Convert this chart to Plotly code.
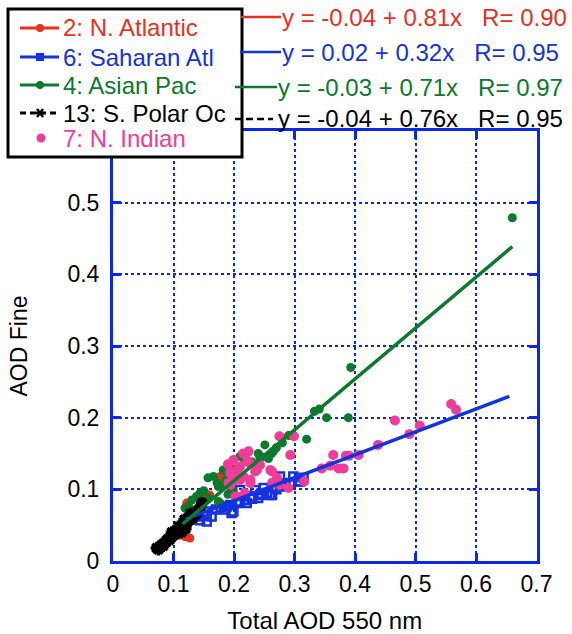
import plotly.graph_objects as go

# ---------------- data ----------------
atl_x = [0.080, 0.086, 0.090, 0.095, 0.100, 0.100, 0.105, 0.108, 0.112, 0.115, 0.119, 0.118,
         0.122, 0.122, 0.125, 0.127, 0.130, 0.133, 0.136, 0.140, 0.143, 0.149, 0.152, 0.149,
         0.155, 0.177, 0.160, 0.090, 0.097, 0.110]
atl_y = [0.025, 0.029, 0.033, 0.036, 0.034, 0.040, 0.044, 0.048, 0.050, 0.052, 0.034, 0.056,
         0.060, 0.081, 0.064, 0.032, 0.066, 0.070, 0.068, 0.074, 0.078, 0.085, 0.095, 0.094,
         0.088, 0.118, 0.092, 0.027, 0.030, 0.036]

sah_x = [0.128, 0.138, 0.144, 0.150, 0.155, 0.155, 0.163, 0.170, 0.178, 0.185, 0.188, 0.194,
         0.196, 0.199, 0.205, 0.210, 0.210, 0.218, 0.221, 0.227, 0.230, 0.235, 0.240, 0.243,
         0.245, 0.249, 0.255, 0.260, 0.263, 0.270, 0.276, 0.276, 0.285, 0.293, 0.298, 0.306,
         0.309, 0.315]
sah_y = [0.058, 0.062, 0.057, 0.063, 0.055, 0.069, 0.062, 0.072, 0.075, 0.072, 0.076, 0.078,
         0.067, 0.069, 0.081, 0.083, 0.099, 0.085, 0.081, 0.090, 0.087, 0.099, 0.088, 0.092,
         0.094, 0.102, 0.095, 0.092, 0.092, 0.100, 0.104, 0.118, 0.108, 0.109, 0.118, 0.111,
         0.111, 0.116]

pac_x = [0.119, 0.125, 0.130, 0.138, 0.144, 0.150, 0.158, 0.157, 0.166, 0.172, 0.174, 0.174,
         0.177, 0.180, 0.182, 0.186, 0.190, 0.190, 0.199, 0.200, 0.210, 0.216, 0.227, 0.230,
         0.240, 0.243, 0.246, 0.251, 0.257, 0.262, 0.265, 0.270, 0.280, 0.290, 0.320, 0.333,
         0.341, 0.353, 0.389, 0.393, 0.660]
pac_y = [0.074, 0.076, 0.085, 0.090, 0.095, 0.098, 0.088, 0.116, 0.118, 0.109, 0.104, 0.083,
         0.081, 0.104, 0.127, 0.112, 0.120, 0.093, 0.097, 0.128, 0.146, 0.143, 0.109, 0.138,
         0.150, 0.144, 0.145, 0.162, 0.143, 0.150, 0.153, 0.158, 0.165, 0.175, 0.170, 0.209,
         0.212, 0.200, 0.200, 0.270, 0.479]

pol_x = [0.072, 0.075, 0.078, 0.080, 0.083, 0.085, 0.088, 0.090, 0.093, 0.095, 0.098, 0.100,
         0.103, 0.105, 0.108, 0.110, 0.112, 0.115, 0.117, 0.120, 0.122, 0.125, 0.127, 0.130,
         0.132, 0.135, 0.138, 0.140, 0.143, 0.147, 0.128, 0.118, 0.108, 0.097, 0.120, 0.113]
pol_y = [0.018, 0.016, 0.020, 0.022, 0.021, 0.025, 0.027, 0.030, 0.029, 0.032, 0.035, 0.036,
         0.038, 0.041, 0.040, 0.044, 0.046, 0.047, 0.050, 0.052, 0.053, 0.056, 0.058, 0.061,
         0.060, 0.064, 0.066, 0.070, 0.072, 0.081, 0.066, 0.058, 0.048, 0.040, 0.045, 0.040]

ind_x = [0.191, 0.194, 0.194, 0.194, 0.202, 0.202, 0.205, 0.205, 0.207, 0.210, 0.210, 0.216,
         0.218, 0.224, 0.227, 0.227, 0.227, 0.235, 0.238, 0.243, 0.260, 0.263, 0.263, 0.271,
         0.275, 0.276, 0.290, 0.293, 0.299, 0.316, 0.345, 0.359, 0.364, 0.373, 0.381, 0.385,
         0.390, 0.406, 0.438, 0.466, 0.490, 0.507, 0.559, 0.567, 0.199, 0.190, 0.215, 0.222]
ind_y = [0.109, 0.122, 0.106, 0.125, 0.113, 0.090, 0.118, 0.090, 0.129, 0.132, 0.113, 0.118,
         0.095, 0.153, 0.136, 0.113, 0.109, 0.125, 0.127, 0.134, 0.127, 0.125, 0.109, 0.116,
         0.174, 0.106, 0.102, 0.148, 0.174, 0.111, 0.129, 0.133, 0.148, 0.129, 0.129, 0.147,
         0.147, 0.148, 0.162, 0.196, 0.177, 0.189, 0.219, 0.211, 0.141, 0.135, 0.150, 0.140]

# regression fits: intercept, slope, R and the x-span each line covers
fit_names = ["2: N. Atlantic", "6: Saharan Atl", "4: Asian Pac", "13: S. Polar Oc"]
fit_intercept = [-0.04, 0.02, -0.03, -0.04]
fit_slope = [0.81, 0.32, 0.71, 0.76]
fit_r = [0.90, 0.95, 0.97, 0.95]
fit_xmin = [0.075, 0.12, 0.115, 0.07]
fit_xmax = [0.16, 0.655, 0.66, 0.148]

x_ticks = [0, 0.1, 0.2, 0.3, 0.4, 0.5, 0.6, 0.7]
y_ticks = [0, 0.1, 0.2, 0.3, 0.4, 0.5]

# ---------------- styling ----------------
RED = "#e8301c"
BLUE = "#1432e0"
GREEN = "#0b7a2c"
PINK = "#f03c98"
BLACK = "#000000"
AXIS = "#0a28e6"
FONT = "Liberation Sans, Arial, sans-serif"

W, H = 572, 634


def fx(p):
    return p / W


def fy(p):
    return 1 - p / H


fit_colors = [RED, BLUE, GREEN, BLACK]
fit_dash = ["solid", "solid", "solid", "dash"]


def fit_trace(i):
    xs = [fit_xmin[i], fit_xmax[i]]
    ys = [fit_intercept[i] + fit_slope[i] * v for v in xs]
    return go.Scatter(x=xs, y=ys, mode="lines", showlegend=False,
                      line=dict(color=fit_colors[i], width=3.5, dash=fit_dash[i]))


fig = go.Figure()

# short N. Atlantic / S. Polar fits sit underneath their dense point clouds
fig.add_trace(fit_trace(0))
fig.add_trace(fit_trace(3))

fig.add_trace(go.Scatter(x=atl_x, y=atl_y, mode="markers", name=fit_names[0],
                         marker=dict(symbol="circle", size=9, color=RED)))
fig.add_trace(go.Scatter(x=sah_x, y=sah_y, mode="markers", name=fit_names[1],
                         marker=dict(symbol="square-open", size=8, color=BLUE,
                                     line=dict(width=2.5, color=BLUE))))
fig.add_trace(go.Scatter(x=pac_x, y=pac_y, mode="markers", name=fit_names[2],
                         marker=dict(symbol="circle", size=9, color=GREEN)))
fig.add_trace(go.Scatter(x=pol_x, y=pol_y, mode="markers", name=fit_names[3],
                         marker=dict(symbol="asterisk-open", size=10, color=BLACK,
                                     line=dict(width=3.5, color=BLACK))))
fig.add_trace(go.Scatter(x=ind_x, y=ind_y, mode="markers", name="7: N. Indian",
                         marker=dict(symbol="circle", size=10, color=PINK)))

fig.add_trace(fit_trace(1))
fig.add_trace(fit_trace(2))

axis_common = dict(
    showline=True, linecolor=AXIS, linewidth=3, mirror="ticks",
    ticks="inside", ticklen=8, tickwidth=3, tickcolor=AXIS,
    showgrid=True, gridcolor=AXIS, gridwidth=2, griddash="dot",
    zeroline=False, tickfont=dict(family=FONT, size=23, color="black"),
    automargin=False,
)

fig.update_layout(
    width=W, height=H,
    margin=dict(l=0, r=0, t=0, b=0),
    paper_bgcolor="white", plot_bgcolor="white",
    showlegend=False,
    font=dict(family=FONT, color="black"),
    xaxis=dict(domain=[fx(113), fx(536.5)], range=[0, 0.7], tickvals=x_ticks,
               ticktext=[f"{v:g}" for v in x_ticks],
               title=dict(text="Total AOD 550 nm", font=dict(size=24), standoff=20),
               **axis_common),
    yaxis=dict(domain=[fy(561), fy(131)], range=[0, 0.6], tickvals=y_ticks,
               ticktext=[f"{v:g}" for v in y_ticks], ticklabelstandoff=6,
               title=dict(text="AOD Fine", font=dict(size=23), standoff=34),
               **axis_common),
)

shapes = []
annotations = []

# legend box
shapes.append(dict(type="rect", xref="paper", yref="paper", layer="above",
                   x0=fx(8), x1=fx(242), y0=fy(157), y1=fy(9),
                   line=dict(color="black", width=3), fillcolor="white"))

legend_rows = [28, 57, 85, 113, 138]
legend_text = fit_names + ["7: N. Indian"]
legend_colors = [RED, BLUE, GREEN, BLACK, PINK]


def line_shape(x0, x1, y, color, dash="solid", width=3):
    return dict(type="line", xref="paper", yref="paper", layer="above",
                x0=fx(x0), x1=fx(x1), y0=fy(y), y1=fy(y),
                line=dict(color=color, width=width, dash=dash))


def pix_shape(kind, cx, cy, x0, x1, y0, y1, **kw):
    d = dict(type=kind, xref="paper", yref="paper", layer="above",
             xsizemode="pixel", ysizemode="pixel", xanchor=fx(cx), yanchor=fy(cy),
             x0=x0, x1=x1, y0=y0, y1=y1)
    d.update(kw)
    return d


# legend keys
for i in range(4):
    shapes.append(line_shape(20, 59, legend_rows[i], legend_colors[i],
                             dash="6px,4px" if i == 3 else "solid"))
shapes.append(pix_shape("circle", 40, legend_rows[0], -4, 4, -4, 4,
                        fillcolor=RED, line=dict(width=0)))
shapes.append(pix_shape("rect", 40, legend_rows[1], -4, 4, -4, 4,
                        fillcolor=BLUE, line=dict(width=0)))
shapes.append(pix_shape("circle", 40, legend_rows[2], -4, 4, -4, 4,
                        fillcolor=GREEN, line=dict(width=0)))
for (a, b, c, d) in [(-4, 4, 0, 0), (-3, 3, -4, 4), (-3, 3, 4, -4)]:
    shapes.append(pix_shape("line", 40, legend_rows[3], a, b, c, d,
                            line=dict(color=BLACK, width=2.5)))
shapes.append(pix_shape("circle", 41, legend_rows[4], -4.5, 4.5, -4.5, 4.5,
                        fillcolor=PINK, line=dict(width=0)))

for i, txt in enumerate(legend_text):
    annotations.append(dict(xref="paper", yref="paper", x=fx(61), y=fy(legend_rows[i]),
                            xanchor="left", yanchor="middle", showarrow=False,
                            text=txt, font=dict(family=FONT, size=24, color=legend_colors[i])))

# regression equations
eq_rows = [17, 52, 87, 119]
eq_seg = [(241, 281), (240, 281), (235, 277), (235, 273)]
eq_text_x = [280, 280, 276, 276]
for i in range(4):
    shapes.append(line_shape(eq_seg[i][0], eq_seg[i][1], eq_rows[i], fit_colors[i],
                             dash="7px,4px" if i == 3 else "solid", width=2.5))
    txt = f"y = {fit_intercept[i]:.2f} + {fit_slope[i]:.2f}x&nbsp;&nbsp; R= {fit_r[i]:.2f}"
    annotations.append(dict(xref="paper", yref="paper", x=fx(eq_text_x[i]), y=fy(eq_rows[i]),
                            xanchor="left", yanchor="middle", showarrow=False,
                            text=txt, font=dict(family=FONT, size=24, color=fit_colors[i])))

fig.update_layout(shapes=shapes, annotations=annotations)

fig.write_html("out.html")
